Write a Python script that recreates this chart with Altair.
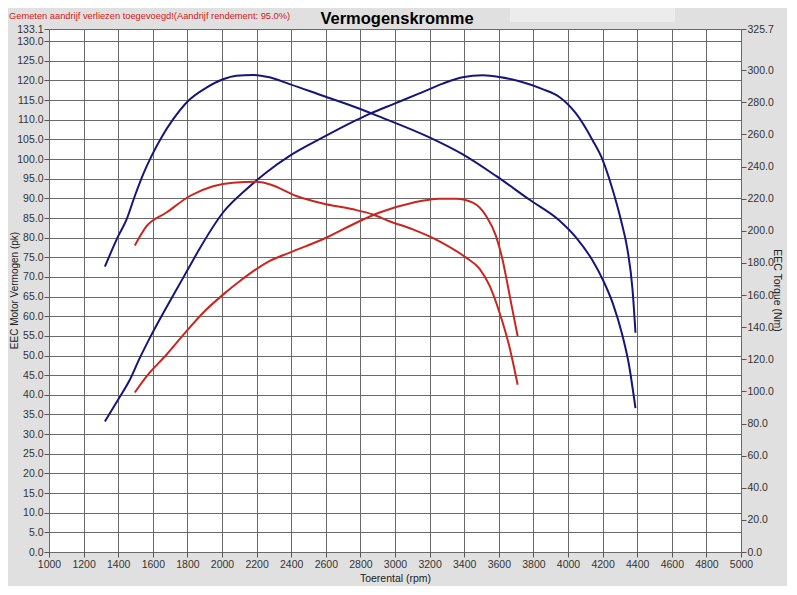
import altair as alt
import pandas as pd

# ---------------- data ----------------
rpm_ticks = list(range(1000, 5001, 200))
pk_ticks = [i * 5 for i in range(27)] + [133.1]
nm_ticks = [i * 20 for i in range(16)] + [325.7]

title_text = ["Vermogenskromme"]
note_text = ["Gemeten aandrijf verliezen toegevoegd!(Aandrijf rendement: 95.0%)"]

# tuned power (pk)
bp_rpm = [1323, 1400, 1468, 1525, 1583, 1650, 1737, 1804, 1872, 2006, 2141, 2256, 2391,
          2583, 2776, 2853, 2997, 3141, 3276, 3391, 3507, 3603, 3719, 3853, 3950, 4046,
          4142, 4200, 4258, 4306, 4344, 4373, 4390]
bp_pk = [33.2, 38.8, 43.9, 49.4, 54.5, 60.0, 66.8, 72.0, 77.3, 86.4, 92.3, 96.6, 100.8,
         105.5, 109.9, 111.5, 114.1, 116.7, 119.2, 120.8, 121.3, 120.9, 119.8, 117.8, 115.8,
         111.6, 104.8, 99.8, 92.2, 84.5, 76.9, 66.8, 55.8]

# stock power (pk)
rp_rpm = [1496, 1564, 1679, 1795, 1891, 2006, 2102, 2256, 2391, 2583, 2776, 2911, 3103,
          3257, 3353, 3450, 3527, 3584, 3622, 3651, 3671, 3709]
rp_pk = [40.6, 44.7, 50.2, 56.2, 60.9, 65.5, 68.9, 73.6, 76.2, 79.6, 83.8, 86.4, 88.9,
         89.9, 89.9, 88.9, 85.5, 80.4, 74.3, 68.0, 63.4, 54.9]

# tuned torque (Nm)
bt_rpm = [1323, 1400, 1448, 1496, 1544, 1593, 1650, 1717, 1804, 1910, 2006, 2083, 2179,
          2275, 2391, 2583, 2776, 2911, 3199, 3392, 3584, 3776, 3950, 4046, 4142, 4200,
          4258, 4316, 4350, 4390]
bt_nm = [177.7, 196.7, 207.0, 221.7, 235.2, 246.7, 258.2, 269.4, 280.9, 289.2, 294.4,
         296.6, 297.1, 295.6, 291.4, 284.1, 276.8, 271.1, 258.2, 247.6, 234.2, 219.5,
         206.5, 196.0, 181.5, 169.8, 155.1, 134.3, 118.0, 89.6]

# stock torque (Nm)
rt_rpm = [1496, 1564, 1679, 1814, 1948, 2064, 2198, 2275, 2429, 2583, 2757, 2872, 2968,
          3103, 3257, 3411, 3488, 3546, 3603, 3661, 3709]
rt_nm = [190.9, 202.9, 211.4, 221.7, 227.8, 230.0, 230.5, 229.0, 221.7, 217.0, 213.4,
         210.2, 206.0, 200.9, 193.5, 183.3, 176.5, 166.0, 149.5, 128.0, 104.2]

series_names = ["Vermogen getuned", "Vermogen origineel", "Koppel getuned", "Koppel origineel"]
series_colors = ["#16167a", "#c8261e", "#16167a", "#c8261e"]

power_df = pd.concat([
    pd.DataFrame({"rpm": bp_rpm, "pk": bp_pk, "serie": series_names[0]}),
    pd.DataFrame({"rpm": rp_rpm, "pk": rp_pk, "serie": series_names[1]}),
])
torque_df = pd.concat([
    pd.DataFrame({"rpm": bt_rpm, "nm": bt_nm, "serie": series_names[2]}),
    pd.DataFrame({"rpm": rt_rpm, "nm": rt_nm, "serie": series_names[3]}),
])

FONT = "Liberation Sans"
color_scale = alt.Scale(domain=series_names, range=series_colors)
x_scale = alt.Scale(domain=[1000, 5000], nice=False, zero=False)


def x_axis():
    return alt.Axis(values=rpm_ticks, format="d", title="Toerental (rpm)",
                    grid=True, tickSize=5, labelPadding=2, titlePadding=4,
                    labelFlush=False)


power = alt.Chart(power_df).mark_line(interpolate="monotone", strokeWidth=2).encode(
    x=alt.X("rpm:Q", scale=x_scale, axis=x_axis()),
    y=alt.Y("pk:Q", scale=alt.Scale(domain=[0, 133.1], nice=False, zero=True),
            axis=alt.Axis(values=pk_ticks, format=".1f", orient="left",
                          title="EEC Motor Vermogen (pk)", grid=True, tickSize=5,
                          labelPadding=1, titleX=-35, titleY=261, titleAngle=-90,
                          titleAlign="center", titleBaseline="middle",
                          titleFontSize=10)),
    color=alt.Color("serie:N", scale=color_scale, legend=None),
)

torque = alt.Chart(torque_df).mark_line(interpolate="monotone", strokeWidth=2).encode(
    x=alt.X("rpm:Q", scale=x_scale, axis=x_axis()),
    y=alt.Y("nm:Q", scale=alt.Scale(domain=[0, 325.7], nice=False, zero=True),
            axis=alt.Axis(values=nm_ticks, format=".1f", orient="right",
                          title="EEC Torque (Nm)", grid=False, tickSize=5,
                          labelPadding=1, titleX=35, titleY=261, titleAngle=90,
                          titleAlign="center", titleBaseline="middle")),
    color=alt.Color("serie:N", scale=color_scale, legend=None),
)

box = alt.Chart(pd.DataFrame({"a": [0]})).mark_rect(color="#ececec").encode(
    x=alt.value(461), x2=alt.value(626), y=alt.value(-21), y2=alt.value(-7)
)

title = alt.Chart(pd.DataFrame({"t": title_text})).mark_text(
    font=FONT, fontSize=16.5, fontWeight="bold", color="#000000",
    align="center", baseline="alphabetic"
).encode(text="t:N", x=alt.value(348), y=alt.value(-5))

note = alt.Chart(pd.DataFrame({"t": note_text})).mark_text(
    font=FONT, fontSize=9.3, color="#d01818", align="left", baseline="alphabetic"
).encode(text="t:N", x=alt.value(-40), y=alt.value(-10))

chart = alt.layer(box, power, torque, title, note).resolve_scale(
    y="independent"
).properties(
    width=692, height=523, background="#e0e0e0",
    padding={"left": 41, "top": 21, "right": 46, "bottom": 34},
    autosize=alt.AutoSizeParams(type="none"),
).configure_view(
    fill="white", stroke=None
).configure_axis(
    labelFont=FONT, titleFont=FONT, labelFontSize=10.5, titleFontSize=10.5,
    titleFontWeight="normal", labelColor="#333333", titleColor="#222222",
    gridColor="#6a6a6a", gridWidth=1, gridOpacity=1,
    domain=False, tickColor="#555555", tickWidth=1,
)

chart.save("out.html", embed_options={"renderer": "svg", "actions": False})
